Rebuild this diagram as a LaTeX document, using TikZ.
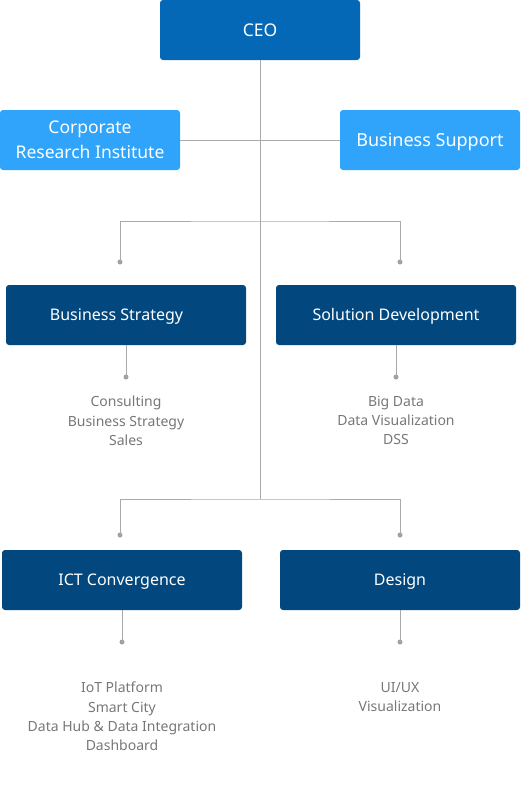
\documentclass[tikz,border=0pt]{standalone}
\usepackage{fontspec}
\setmainfont{Noto Sans}
\definecolor{ceoblue}{HTML}{0468B6}
\definecolor{lightblue}{HTML}{30A4FA}
\definecolor{navy}{HTML}{02487E}
\definecolor{linegray}{HTML}{AAAAAA}
\definecolor{dotgray}{HTML}{A0A0A0}
\definecolor{textgray}{HTML}{777777}
\begin{document}
\begin{tikzpicture}[x=1pt,y=-1pt,
  box/.style={rounded corners=3pt, inner sep=0pt, text=white, font=\fontsize{16}{20}\selectfont, text height=11.4pt, text depth=0pt},
  conn/.style={draw=linegray, line width=0.9pt},
  dot/.style={circle, fill=dotgray, inner sep=0pt, minimum size=5pt},
  items/.style={text=textgray, align=center, anchor=north, inner sep=0pt, font=\fontsize{14}{19.2}\selectfont}]
\useasboundingbox (0,0) rectangle (520,785);
% boxes
\node[box, fill=ceoblue, minimum width=200pt, minimum height=60pt, text height=12.5pt, font=\fontsize{17.5}{22}\selectfont] (ceo) at (260,30) {CEO};
\node[box, fill=lightblue, minimum width=180pt, minimum height=60pt, align=center, text height=, text depth=, font=\fontsize{17.5}{25}\selectfont] (cri) at (90,140) {Corporate\\Research Institute};
\node[box, fill=lightblue, minimum width=180pt, minimum height=60pt, text height=12.85pt, font=\fontsize{18}{22}\selectfont] (bsup) at (430,140) {Business Support};
\node[box, fill=navy, minimum width=240pt, minimum height=60pt] (bs) at (126,315) {Business Strategy\kern19pt};
\node[box, fill=navy, minimum width=240pt, minimum height=60pt] (sd) at (396,315) {Solution Development};
\node[box, fill=navy, minimum width=240pt, minimum height=60pt] (ict) at (122,580) {ICT Convergence};
\node[box, fill=navy, minimum width=240pt, minimum height=60pt] (des) at (400,580) {Design};
% junctions
\coordinate (j2) at (260,221);
\coordinate (j3) at (260,499);
\node[dot] (d1) at (120,262) {};
\node[dot] (d2) at (400,262) {};
\node[dot] (d3) at (120,535) {};
\node[dot] (d4) at (400,535) {};
\node[dot] (d5) at (126,377) {};
\node[dot] (d6) at (396,377) {};
\node[dot] (d7) at (122,642) {};
\node[dot] (d8) at (400,642) {};
% connectors
\draw[conn] (ceo.south) -- (j3);
\draw[conn] (cri.east) -- (bsup.west);
\draw[conn] (d1.center) |- (j2) -| (d2.center);
\draw[conn] (d3.center) |- (j3) -| (d4.center);
\draw[conn] (bs.south) -- (d5.center);
\draw[conn] (sd.south) -- (d6.center);
\draw[conn] (ict.south) -- (d7.center);
\draw[conn] (des.south) -- (d8.center);
% item lists
\node[items] (bsi) at (126,396) {Consulting\\Business Strategy\\Sales};
\node[items] (sdi) at (396,396) {Big Data\\Data Visualization\\DSS};
\node[items] (icti) at (122,682) {IoT Platform\\Smart City\\Data Hub \& Data Integration\\Dashboard};
\node[items] (desi) at (400,682) {UI/UX\\Visualization};
\end{tikzpicture}
\end{document}
